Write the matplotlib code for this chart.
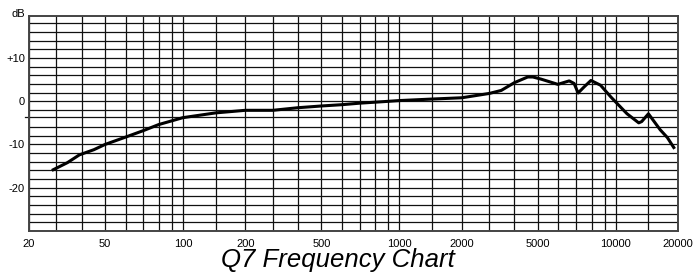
import numpy as np
import matplotlib
matplotlib.use("Agg")
import matplotlib.pyplot as plt

plt.rcParams['font.family'] = ['Liberation Sans', 'DejaVu Sans']

# Frequency response (Hz, dB)
freq = [28, 34, 39, 45, 50, 60, 70, 80, 100, 150, 200, 300, 400, 500, 600, 700,
        860, 1000, 1500, 2000, 3000, 3440, 4000, 4540, 4770, 5150, 5970, 6590,
        6880, 7120, 7500, 7960, 8660, 9530, 10000, 11500, 13300, 13800, 15000,
        16800, 18000, 19300]
db = [-16.0, -14.2, -12.4, -11.2, -10.0, -8.3, -6.8, -5.4, -3.8, -2.7, -2.1, -2.1,
      -1.5, -1.1, -0.8, -0.45, -0.1, 0.15, 0.5, 0.8, 1.8, 2.5, 4.3, 5.6, 5.6, 5.1,
      3.9, 4.7, 4.1, 1.9, 3.3, 4.8, 3.7, 1.0, -0.2, -2.9, -5.0, -4.7, -2.9, -6.6,
      -8.4, -11.0]

xticks = [20, 50, 100, 200, 500, 1000, 2000, 5000, 10000, 20000]
yticks = [10, 0, -10, -20]
ytick_labels = ['+10', '0', '-10', '-20']

# grid lines of the printed chart paper
mant = [1, 1.5, 2, 3, 4, 5, 6, 7, 8, 9]
vgrid = [m * 10 ** d for d in (1, 2, 3) for m in mant if 20 <= m * 10 ** d] + [10000, 15000, 20000]
hgrid = [v for v in range(-30, 21, 2) if v != -4]

# the chart paper is not quite logarithmic inside each decade
MANT = np.log10([1, 1.5, 2, 3, 4, 5, 6, 7, 8, 9, 10])
FRAC = np.array([0, .151, .289, .416, .532, .64, .735, .817, .888, .95, 1.0])


def fwd(x):
    x = np.clip(np.asarray(x, dtype=float), 1e-3, None)
    lg = np.log10(x)
    d = np.floor(lg)
    return d + np.interp(lg - d, MANT, FRAC)


def inv(y):
    y = np.asarray(y, dtype=float)
    d = np.floor(y)
    return 10 ** (d + np.interp(y - d, FRAC, MANT))


W, H = 695, 273
fig = plt.figure(figsize=(W / 100, H / 100), dpi=100)
ax = fig.add_axes([29 / W, 1 - 231 / H, (678.3 - 29) / W, (231 - 16) / H])
ax.set_xscale('function', functions=(fwd, inv))
ax.set_xlim(20, 20000)
ax.set_ylim(-30, 19.7)

for f in vgrid:
    ax.axvline(f, color='#111111', lw=0.9, zorder=1)
for v in hgrid:
    ax.axhline(v, color='#111111', lw=0.9, zorder=1)
ax.axhline(-3.6, xmin=-0.006, xmax=0.997, color='#111111', lw=0.9, zorder=1, clip_on=False)

ax.plot(freq, db, color='black', lw=2.2, zorder=3, solid_capstyle='butt',
        solid_joinstyle='round')

ax.set_xticks(xticks)
ax.set_xticklabels([str(t) for t in xticks])
ax.xaxis.set_minor_locator(matplotlib.ticker.NullLocator())
ax.set_yticks(yticks)
ax.set_yticklabels(ytick_labels)
ax.tick_params(axis='both', length=0, labelsize=8, colors='black')
ax.tick_params(axis='x', pad=5.5)
ax.tick_params(axis='y', pad=3)

for s in ax.spines.values():
    s.set_color('#444444')
    s.set_linewidth(1.4)

fig.text(25 / W, 1 - 14 / H, 'dB', ha='right', va='center', fontsize=8)
fig.text(338 / W, 6 / H, 'Q7 Frequency Chart', ha='center', va='baseline',
         fontsize=18.5, style='italic')

fig.savefig('out.png', dpi=100)
